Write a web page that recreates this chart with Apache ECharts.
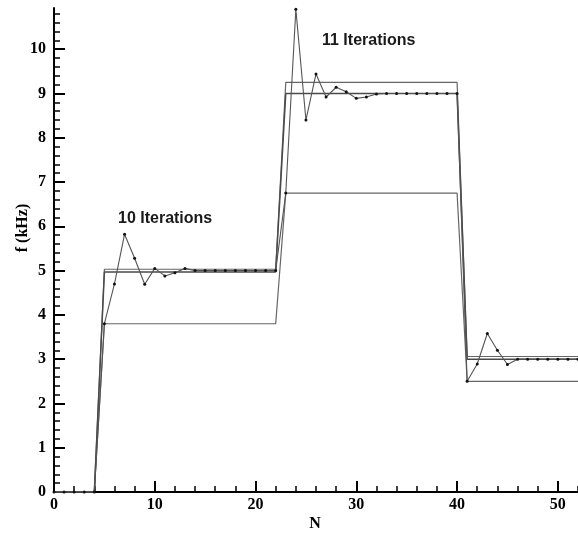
<!DOCTYPE html>
<html>
<head>
<meta charset="utf-8">
<script src="https://cdn.jsdelivr.net/npm/echarts@6/dist/echarts.min.js"></script>
<style>
  html, body { margin: 0; padding: 0; background: #fff; }
  #chart { width: 578px; height: 534px; }
</style>
</head>
<body>
<div id="chart"></div>
<script>
// ---- data ----
// breakpoints (N) of the step curves
var stepN = [0, 4, 5, 22, 23, 40, 41, 52];
var upperStep  = [0, 0, 5.03, 5.03, 9.25, 9.25, 3.06, 3.06];
var targetStep = [0, 0, 4.97, 4.97, 9.0, 9.0, 3.0, 3.0];
var initStep   = [0, 0, 3.8, 3.8, 6.75, 6.75, 2.5, 2.5];

// iterated estimate at each N = 0..52
var iterN = [0,1,2,3,4,5,6,7,8,9,10,11,12,13,14,15,16,17,18,19,20,21,22,23,24,25,26,27,28,29,30,31,32,33,34,35,36,37,38,39,40,41,42,43,44,45,46,47,48,49,50,51,52];
var iterF = [0,0,0,0,0,
  3.8,4.7,5.82,5.28,4.69,5.05,4.88,4.95,5.05,5.0,5.0,5.0,5.0,5.0,5.0,5.0,5.0,5.0,
  6.75,10.9,8.4,9.44,8.92,9.14,9.04,8.89,8.92,8.99,9.0,9.0,9.0,9.0,9.0,9.0,9.0,9.0,
  2.5,2.89,3.58,3.2,2.88,3.0,3.0,3.0,3.0,3.0,3.0,3.0];

var yMajorTicks = [0,1,2,3,4,5,6,7,8,9,10];
var xMajorTicks = [0,10,20,30,40,50];

// ---- helpers ----
function pairs(xs, ys) { return xs.map(function (x, i) { return [x, ys[i]]; }); }
var yMinorTicks = [];
for (var k = 0; k <= 54; k++) { yMinorTicks.push(Math.round(k * 2) / 10); }
var xMinorTicks = [];
for (var m = 0; m <= 26; m++) { xMinorTicks.push(m * 2); }

var serif = 'Liberation Serif';
var chart = echarts.init(document.getElementById('chart'), null, { renderer: 'canvas' });

var option = {
  animation: false,
  backgroundColor: '#ffffff',
  grid: { left: 54, right: -7, top: 8, bottom: 42, containLabel: false },
  xAxis: [{
    type: 'value', min: 0, max: 52, position: 'bottom',
    axisLine: { show: true, onZero: false, lineStyle: { color: '#000', width: 2 } },
    axisTick: { show: true, inside: true, length: 11, customValues: xMajorTicks, lineStyle: { color: '#000', width: 2 } },
    axisLabel: { show: true, customValues: xMajorTicks, margin: 5, color: '#000', fontFamily: serif, fontWeight: 'bold', fontSize: 16 },
    splitLine: { show: false }
  }, {
    type: 'value', min: 0, max: 52, position: 'bottom', gridIndex: 0,
    axisLine: { show: false },
    axisTick: { show: true, inside: true, length: 6, customValues: xMinorTicks, lineStyle: { color: '#000', width: 1.5 } },
    axisLabel: { show: false },
    splitLine: { show: false }
  }],
  yAxis: [{
    type: 'value', min: 0, max: 10.93, position: 'left',
    axisLine: { show: true, onZero: false, lineStyle: { color: '#000', width: 2 } },
    axisTick: { show: true, inside: true, length: 11, customValues: yMajorTicks, lineStyle: { color: '#000', width: 2 } },
    axisLabel: { show: true, customValues: yMajorTicks, margin: 8, color: '#000', fontFamily: serif, fontWeight: 'bold', fontSize: 16 },
    splitLine: { show: false }
  }, {
    type: 'value', min: 0, max: 10.93, position: 'left', gridIndex: 0,
    axisLine: { show: false },
    axisTick: { show: true, inside: true, length: 6, customValues: yMinorTicks, lineStyle: { color: '#000', width: 1.5 } },
    axisLabel: { show: false },
    splitLine: { show: false }
  }],
  series: [{
    type: 'line', name: 'upper', data: pairs(stepN, upperStep),
    symbol: 'none', lineStyle: { color: '#666', width: 1.2 }, z: 2
  }, {
    type: 'line', name: 'target', data: pairs(stepN, targetStep),
    symbol: 'none', lineStyle: { color: '#4a4a4a', width: 1.5 }, z: 3
  }, {
    type: 'line', name: 'initial', data: pairs(stepN, initStep),
    symbol: 'none', lineStyle: { color: '#666', width: 1.2 }, z: 2
  }, {
    type: 'line', name: 'iterations', data: pairs(iterN, iterF),
    symbol: 'circle', symbolSize: 3, showAllSymbol: true,
    itemStyle: { color: '#111' },
    lineStyle: { color: '#555', width: 1.1 }, z: 4
  }],
  graphic: [{
    type: 'text', x: 23, y: 228, rotation: Math.PI / 2,
    style: { text: 'f (kHz)', fill: '#000', font: 'bold 16px "Liberation Serif"', align: 'center', verticalAlign: 'middle' }
  }, {
    type: 'text', x: 315, y: 524,
    style: { text: 'N', fill: '#000', font: 'bold 16px "Liberation Serif"', align: 'center', verticalAlign: 'middle' }
  }, {
    type: 'text', x: 118, y: 219,
    style: { text: '10 Iterations', fill: '#1a1a1a', font: 'bold 16px "Liberation Sans"', align: 'left', verticalAlign: 'middle' }
  }, {
    type: 'text', x: 322, y: 40.5,
    style: { text: '11 Iterations', fill: '#1a1a1a', font: 'bold 16px "Liberation Sans"', align: 'left', verticalAlign: 'middle' }
  }]
};
chart.setOption(option);
</script>
</body>
</html>
